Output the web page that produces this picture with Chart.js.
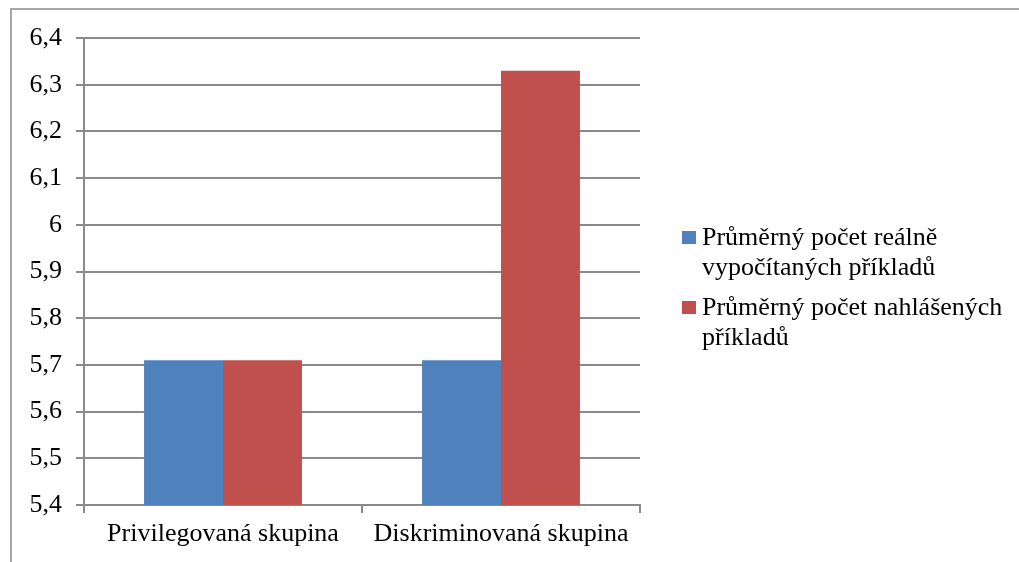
<!DOCTYPE html>
<html>
<head>
<meta charset="utf-8">
<script src="https://cdn.jsdelivr.net/npm/chart.js@4/dist/chart.umd.min.js"></script>
<style>
    body { margin: 0; background: #fff; }
    #wrap { position: relative; width: 1019px; height: 562px; overflow: hidden; }
    #frame { position: absolute; left: 10px; top: 8px; width: 1100px; height: 700px;
             border-left: 2px solid #a6a6a6; border-top: 2px solid #a6a6a6; }
    #legend { position: absolute; left: 682px; top: 222px; width: 345px;
              font-family: 'Liberation Serif', 'Times New Roman', serif; font-size: 26px; line-height: 30px; color: #000; }
    .item { position: relative; padding-left: 20px; margin-bottom: 10px; }
    .box { position: absolute; left: 0; top: 9px; width: 14px; height: 13px; }
</style>
</head>
<body>
<div id="wrap">
    <div id="frame"></div>
    <canvas id="graf" width="1019" height="562"></canvas>
    <div id="legend"></div>
</div>
<script>
// Kategorie a hodnoty
const skupiny = ['Privilegovaná skupina', 'Diskriminovaná skupina'];
const realne = [5.71, 5.71];
const nahlasene = [5.71, 6.33];
const yTickLabels = ['5,4', '5,5', '5,6', '5,7', '5,8', '5,9', '6', '6,1', '6,2', '6,3', '6,4'];

const font = { family: "'Liberation Serif', 'Times New Roman', serif", size: 26 };
const mriz = '#8a8a8a';

const ctx = document.getElementById('graf').getContext('2d');
const chart = new Chart(ctx, {
    type: 'bar',
    data: {
        labels: skupiny,
        datasets: [
            {
                label: 'Průměrný počet reálně vypočítaných příkladů',
                data: realne,
                backgroundColor: '#4f81bd',
                borderWidth: 0
            },
            {
                label: 'Průměrný počet nahlášených příkladů',
                data: nahlasene,
                backgroundColor: '#c0504d',
                borderWidth: 0
            }
        ]
    },
    options: {
        responsive: false,
        animation: false,
        events: [],
        categoryPercentage: 0.568,
        barPercentage: 1,
        layout: { padding: { left: 0, right: 379, top: 38, bottom: 0 } },
        plugins: {
            legend: { display: false },
            tooltip: { enabled: false }
        },
        scales: {
            x: {
                afterFit: function (scale) { scale.height = 57; },
                grid: { offset: true, drawOnChartArea: false, drawTicks: true, tickLength: 8, color: mriz, lineWidth: 2 },
                border: { color: mriz, width: 2 },
                ticks: { color: '#000', font: font, padding: 6 }
            },
            y: {
                min: 5.4,
                max: 6.4,
                afterFit: function (scale) { scale.width = 84; },
                ticks: {
                    stepSize: 0.1,
                    color: '#000',
                    font: font,
                    padding: 14,
                    callback: function (value, index) { return yTickLabels[index]; }
                },
                grid: { color: mriz, lineWidth: 2, tickLength: 8 },
                border: { color: mriz, width: 2 }
            }
        }
    }
});

// Legenda vedle grafu
const legend = document.getElementById('legend');
chart.data.datasets.forEach(function (ds) {
    const item = document.createElement('div');
    item.className = 'item';
    const box = document.createElement('span');
    box.className = 'box';
    box.style.background = ds.backgroundColor;
    item.appendChild(box);
    item.appendChild(document.createTextNode(ds.label));
    legend.appendChild(item);
});
</script>
</body>
</html>
